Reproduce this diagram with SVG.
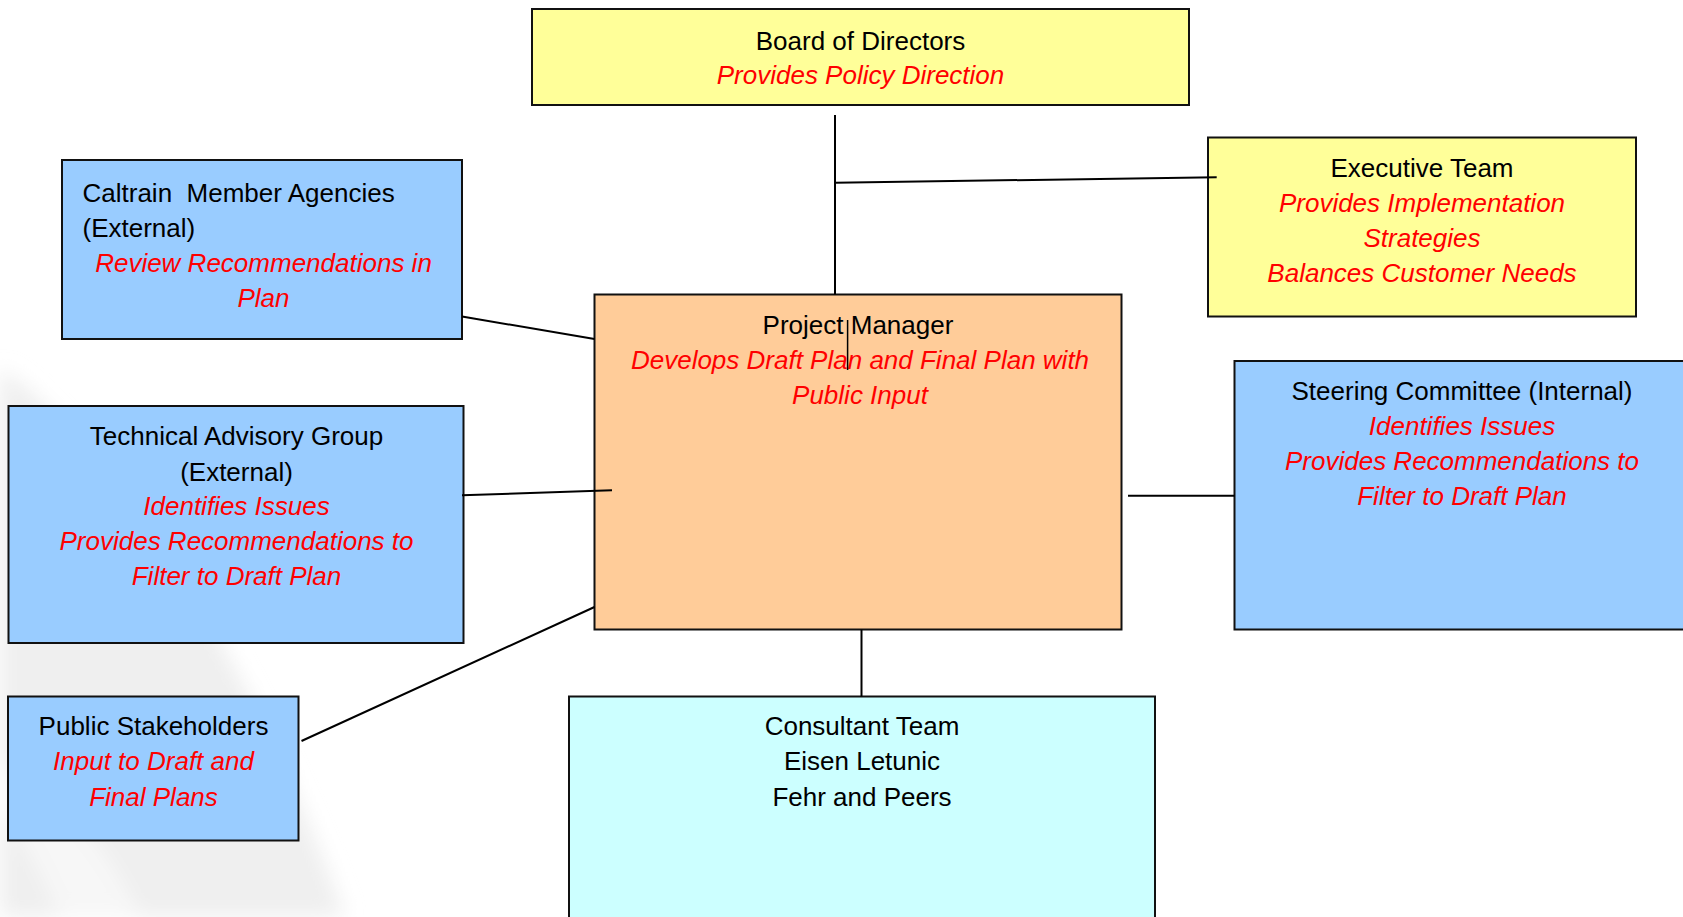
<svg xmlns="http://www.w3.org/2000/svg" width="1683" height="917" viewBox="0 0 1683 917">
  <defs>
    <filter id="soft" x="-20%" y="-20%" width="140%" height="140%">
      <feGaussianBlur stdDeviation="10"/>
    </filter>
  </defs>
  <style>
    .box { stroke: #111; stroke-width: 2; }
    .yellow { fill: #FFFF99; }
    .blue { fill: #99CCFF; }
    .orange { fill: #FFCC99; }
    .cyan { fill: #CCFFFF; }
    text { font-family: "Liberation Sans", Arial, sans-serif; font-size: 26px; }
    .t { fill: #000; }
    .r { fill: #FF0000; font-style: italic; }
    .c { text-anchor: middle; }
    .conn line { stroke: #000; stroke-width: 2; }
  </style>
  <rect width="1683" height="917" fill="#ffffff"/>
  <g id="background" filter="url(#soft)">
    <path d="M0,370 C30,380 110,470 190,590 C240,670 300,790 345,917 L0,917 Z" fill="#efefef"/>
    <path d="M0,760 C60,790 110,850 140,917 L60,917 C40,870 20,830 0,815 Z" fill="#f7f7f7"/>
  </g>

  <g id="board">
    <rect class="box yellow" x="532" y="9" width="657" height="96"/>
    <text class="t c" x="860.5" y="49.5">Board of Directors</text>
    <text class="r c" x="860.5" y="84">Provides Policy Direction</text>
  </g>

  <g id="executive">
    <rect class="box yellow" x="1208" y="137.5" width="428" height="179"/>
    <text class="t c" x="1422" y="177">Executive Team</text>
    <text class="r c" x="1422" y="212">Provides Implementation</text>
    <text class="r c" x="1422" y="247">Strategies</text>
    <text class="r c" x="1422" y="282">Balances Customer Needs</text>
  </g>

  <g id="caltrain">
    <rect class="box blue" x="62" y="160" width="400" height="179"/>
    <text class="t" x="82.5" y="202" xml:space="preserve" style="white-space:pre">Caltrain  Member Agencies</text>
    <text class="t" x="82.5" y="237">(External)</text>
    <text class="r c" x="263.5" y="272">Review Recommendations in</text>
    <text class="r c" x="263.5" y="307">Plan</text>
  </g>

  <g id="project-manager">
    <rect class="box orange" x="594.5" y="294.5" width="527" height="335"/>
    <text class="t c" x="858" y="333.5">Project Manager</text>
    <text class="r c" x="860" y="368.5">Develops Draft Plan and Final Plan with</text>
    <text class="r c" x="860" y="403.5">Public Input</text>
  </g>

  <g id="technical-advisory">
    <rect class="box blue" x="8.5" y="406" width="455" height="237"/>
    <text class="t c" x="236.5" y="445">Technical Advisory Group</text>
    <text class="t c" x="236.5" y="480.5">(External)</text>
    <text class="r c" x="236.5" y="515">Identifies Issues</text>
    <text class="r c" x="236.5" y="550">Provides Recommendations to</text>
    <text class="r c" x="236.5" y="585">Filter to Draft Plan</text>
  </g>

  <g id="steering">
    <rect class="box blue" x="1234.5" y="361" width="470" height="268.5"/>
    <text class="t c" x="1462" y="400">Steering Committee (Internal)</text>
    <text class="r c" x="1462" y="435">Identifies Issues</text>
    <text class="r c" x="1462" y="470">Provides Recommendations to</text>
    <text class="r c" x="1462" y="505">Filter to Draft Plan</text>
  </g>

  <g id="public-stakeholders">
    <rect class="box blue" x="8" y="696.5" width="290.5" height="144"/>
    <text class="t c" x="153.5" y="735">Public Stakeholders</text>
    <text class="r c" x="153.5" y="770">Input to Draft and</text>
    <text class="r c" x="153.5" y="805.5">Final Plans</text>
  </g>

  <g id="consultant">
    <rect class="box cyan" x="569" y="696.5" width="586" height="240"/>
    <text class="t c" x="862" y="734.5">Consultant Team</text>
    <text class="t c" x="862" y="770">Eisen Letunic</text>
    <text class="t c" x="862" y="805.5">Fehr and Peers</text>
  </g>

  <g id="connectors" class="conn">
    <line x1="835" y1="115" x2="835" y2="294.5"/>
    <line x1="835" y1="182.7" x2="1216.7" y2="177.3"/>
    <line x1="462" y1="316.5" x2="594.5" y2="339"/>
    <line x1="462" y1="495.3" x2="612" y2="490.3"/>
    <line x1="301.5" y1="741" x2="594.5" y2="607"/>
    <line x1="1128" y1="495.7" x2="1234.5" y2="495.7"/>
    <line x1="861.5" y1="629.5" x2="861.5" y2="696.5"/>
    <line x1="847.6" y1="320" x2="847.6" y2="370" style="stroke-width:1.5"/>
  </g>
</svg>
